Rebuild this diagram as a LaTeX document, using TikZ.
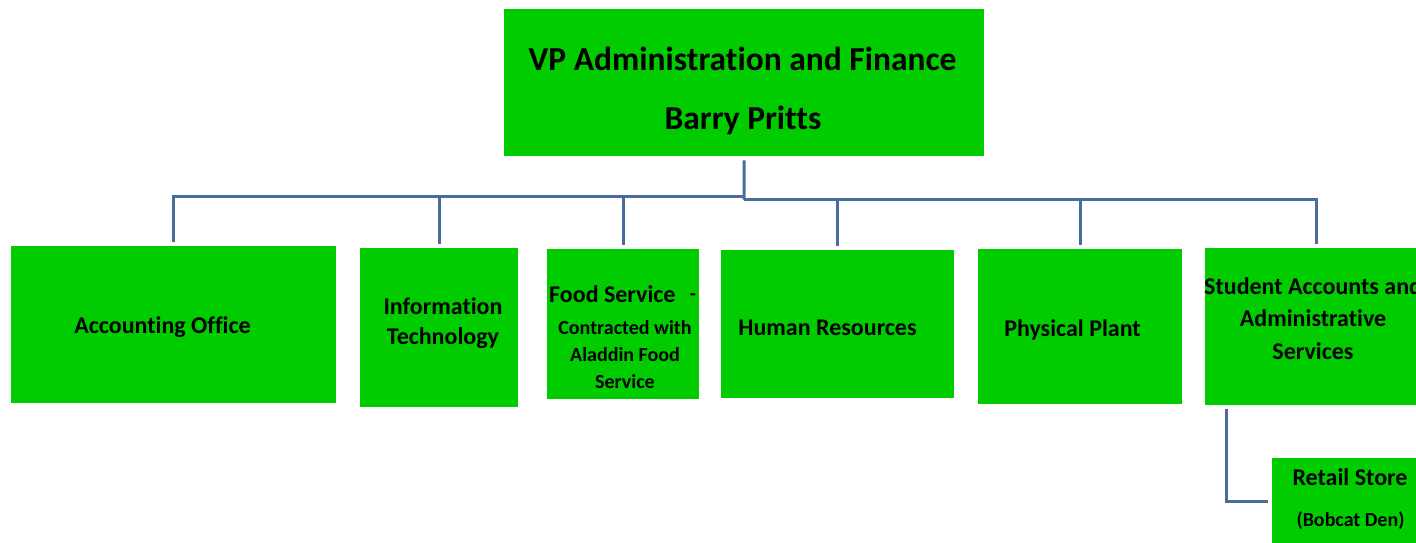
\documentclass[tikz,border=0pt]{standalone}
\usepackage{fontspec}
\setmainfont{Carlito}[Ligatures=NoCommon]
\begin{document}
\begin{tikzpicture}[x=1pt,y=-1pt,
  box/.style={fill=boxgreen,draw=none,inner sep=0pt,anchor=north west},
  txt/.style={inner sep=0pt,font=\bfseries,text=black},
  big/.style={font=\fontsize{33.5}{36}\selectfont\bfseries},
  mid/.style={font=\fontsize{24}{26}\selectfont\bfseries},
  small/.style={font=\fontsize{20}{22}\selectfont\bfseries},
  conn/.style={draw=linkblue,line width=3pt}]
\definecolor{boxgreen}{HTML}{00CC00}
\definecolor{linkblue}{HTML}{4A6C9C}
\useasboundingbox (0,0) rectangle (1416,542);
\clip (0,0) rectangle (1416,542);
% boxes
\node[box,minimum width=480pt,minimum height=147pt] (vp) at (504,9) {};
\node[box,minimum width=325pt,minimum height=157pt] (acc) at (11,246) {};
\node[box,minimum width=158pt,minimum height=159pt] (it) at (360,248) {};
\node[box,minimum width=152pt,minimum height=150pt] (food) at (547,249) {};
\node[box,minimum width=233pt,minimum height=148pt] (hr) at (721,250) {};
\node[box,minimum width=204pt,minimum height=155pt] (pp) at (978,249) {};
\node[box,minimum width=222pt,minimum height=157pt] (stu) at (1205,248) {};
\node[box,minimum width=160pt,minimum height=86pt] (ret) at (1272,458) {};
% texts
\node[txt,big] (vpt1) at (742.5,59) {VP Administration and Finance};
\node[txt,big] (vpt2) at (743,120) {Barry Pritts};
\node[txt,mid] (acct) at (162.5,327) {Accounting Office};
\node[txt,mid] (itt1) at (443,306) {Information};
\node[txt,mid] (itt2) at (443,338) {Technology};
\node[txt,mid,anchor=west] (ft1) at (549,294) {Food Service};
\node[txt,small] (ftd) at (693,297) {-};
\node[txt,small] (ft2) at (625,328) {Contracted with};
\node[txt,small] (ft3) at (625,355) {Aladdin Food};
\node[txt,small] (ft4) at (625,382) {Service};
\node[txt,mid] (hrt) at (827.5,328) {Human Resources};
\node[txt,mid] (ppt) at (1072.5,330) {Physical Plant};
\node[txt,mid,anchor=west] (st1) at (1204,286) {Student Accounts and};
\node[txt,mid] (st2) at (1313,318) {Administrative};
\node[txt,mid] (st3) at (1313,351) {Services};
\node[txt,mid] (rt1) at (1350,477) {Retail Store};
\node[txt,small] (rt2) at (1350.5,521) {(Bobcat Den)};
% connectors
\coordinate (hubL) at (744,196.5);
\coordinate (hubR) at (744,199.5);
\draw[conn] ([yshift=-4pt]vp.south) -- (hubR);
\draw[conn] ([yshift=4pt]acc.north) |- (hubL);
\draw[conn] ([yshift=4pt]it.north) |- (hubL);
\draw[conn] ([yshift=4pt]food.north) |- (hubL);
\draw[conn] ([yshift=4pt]hr.north) |- (hubR);
\draw[conn] ([yshift=4pt]pp.north) |- (hubR);
\draw[conn] ([yshift=4pt]stu.north) |- (hubR);
\draw[conn] ([xshift=21pt,yshift=-4pt]stu.south west) |- ([xshift=-4pt]ret.west);
\end{tikzpicture}
\end{document}
